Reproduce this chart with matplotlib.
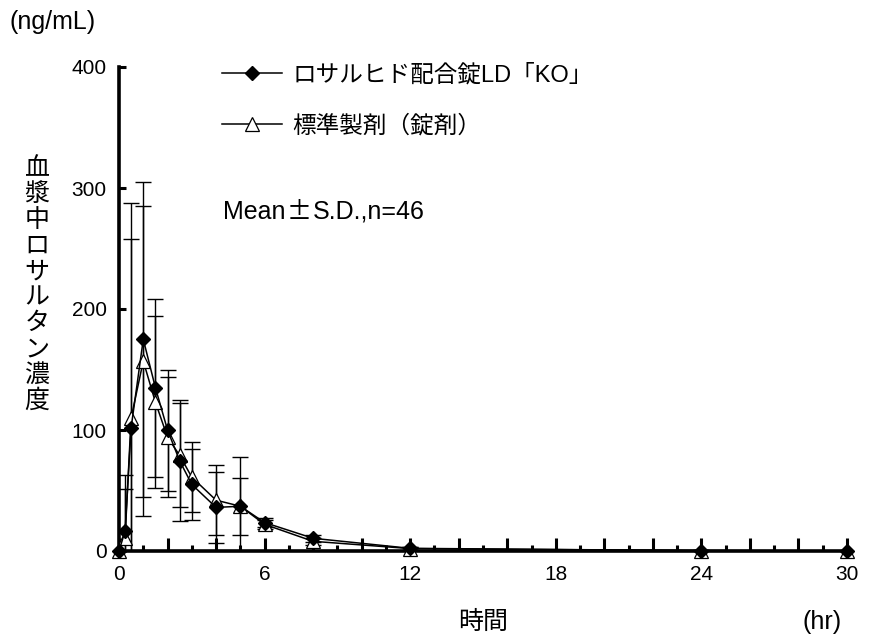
import matplotlib
matplotlib.use("Agg")
import matplotlib.pyplot as plt
from matplotlib.ticker import FixedLocator, MultipleLocator, FuncFormatter

plt.rcParams['font.family'] = ['Liberation Sans', 'Noto Sans CJK JP', 'DejaVu Sans']

# ---- data ----
time_hr = [0, 0.25, 0.5, 1, 1.5, 2, 2.5, 3, 4, 5, 6, 8, 12, 24, 30]
test_mean = [0, 16.5, 102, 175, 135, 100, 74.5, 55, 36, 37, 23.5, 10.5, 2.2, 0.3, 0.1]
test_sd = [0, 46, 186, 130, 73.5, 50, 50, 29.5, 29.5, 40.5, 4, 3, 1, 0.3, 0.1]
ref_mean = [0, 11, 110, 157, 123, 94, 79, 61, 42, 37, 22, 8, 2, 0.3, 0.1]
ref_sd = [0, 40, 148, 128, 71, 49.5, 43, 29, 29, 23.5, 4, 3, 1, 0.3, 0.1]
test_label = "ロサルヒド配合錠LD「KO」"
ref_label = "標準製剤（錠剤）"
x_tick_values = [0, 6, 12, 18, 24, 30]
y_tick_values = [0, 100, 200, 300, 400]
ylabel_text = "血漿中ロサルタン濃度"

W, H = 871, 634
fig = plt.figure(figsize=(W / 100, H / 100), dpi=100)
x0, x1, yb, yt = 119, 847, 551, 67
ax = fig.add_axes([x0 / W, 1 - yb / H, (x1 - x0) / W, (yb - yt) / H])

fs_tick = 15
fs_leg = 17
fs_big = 18

ax.errorbar(time_hr, ref_mean, yerr=ref_sd, fmt='none', ecolor='black',
            elinewidth=1.0, capsize=5.5, capthick=1.0, zorder=2)
ax.errorbar(time_hr, test_mean, yerr=test_sd, fmt='none', ecolor='black',
            elinewidth=1.0, capsize=5.5, capthick=1.0, zorder=2)
l_ref, = ax.plot(time_hr, ref_mean, color='black', lw=1.1, marker='^', ms=9.5,
                 mfc='white', mec='black', mew=0.9, zorder=3, clip_on=False,
                 label=ref_label)
l_test, = ax.plot(time_hr, test_mean, color='black', lw=1.1, marker='D', ms=7.5,
                  mfc='black', mec='black', zorder=4, clip_on=False,
                  label=test_label)

ax.set_xlim(0, 30)
ax.set_ylim(0, 400)

for s in ['top', 'right']:
    ax.spines[s].set_visible(False)
for s in ['left', 'bottom']:
    ax.spines[s].set_linewidth(2.6)

ax.xaxis.set_major_locator(MultipleLocator(2))
ax.xaxis.set_minor_locator(MultipleLocator(1))
ax.xaxis.set_major_formatter(FuncFormatter(
    lambda v, p: str(int(round(v))) if int(round(v)) in x_tick_values else ''))
ax.yaxis.set_major_locator(FixedLocator(y_tick_values))
ax.tick_params(axis='x', which='major', direction='in', length=9.5, width=2.2,
               labelsize=fs_tick, pad=10)
ax.tick_params(axis='x', which='minor', direction='in', length=4.5, width=2.2)
ax.tick_params(axis='y', which='major', direction='in', length=5, width=2.2,
               labelsize=fs_tick, pad=9)

leg = ax.legend(handles=[l_test, l_ref], loc='upper left',
                bbox_to_anchor=((222 - x0) / (x1 - x0), 1 - (64 - yt) / (yb - yt)),
                frameon=False, fontsize=fs_leg, handlelength=2.55, handletextpad=0.42,
                labelspacing=1.2, borderaxespad=0, borderpad=0)

# Mean ± S.D. annotation
fig.text(223 / W, 1 - 212 / H, "Mean", fontsize=fs_big, ha='left', va='center')
fig.text(299 / W, 1 - 212 / H, "±", fontsize=fs_big, ha='center', va='center',
         family=['Noto Sans CJK JP'])
fig.text(313 / W, 1 - 212 / H, "S.D.,n=46", fontsize=fs_big, ha='left', va='center')

fig.text(9 / W, 1 - 22 / H, "(ng/mL)", fontsize=fs_big, ha='left', va='center')
fig.text(483 / W, 1 - 622 / H, "時間", fontsize=fs_big, ha='center', va='center')
fig.text(822 / W, 1 - 622 / H, "(hr)", fontsize=fs_big, ha='center', va='center')

top_c, bot_c = 168, 401
n = len(ylabel_text)
for i, ch in enumerate(ylabel_text):
    yc = top_c + (bot_c - top_c) * i / (n - 1)
    fig.text(37 / W, 1 - yc / H, ch, fontsize=fs_big, ha='center', va='center')

fig.savefig("out.png", dpi=100)
